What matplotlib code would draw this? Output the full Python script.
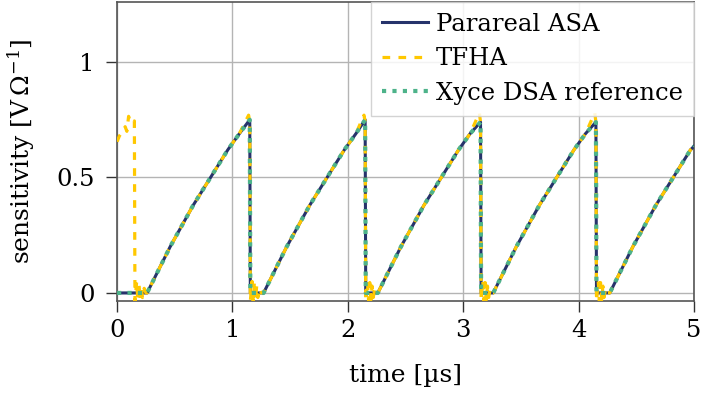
import matplotlib
matplotlib.use("Agg")
import matplotlib.pyplot as plt

# ---------------------------------------------------------------------------
# Data (time in us, sensitivity in V/Ohm)
# ---------------------------------------------------------------------------

parareal_t = [0.00, 0.26,
              0.36, 0.46, 0.56, 0.66, 0.76, 0.86, 0.96, 1.06, 1.15, 1.155,
              1.27, 1.37, 1.47, 1.57, 1.67, 1.77, 1.87, 1.97, 2.07, 2.15, 2.155,
              2.26, 2.36, 2.46, 2.56, 2.66, 2.76, 2.86, 2.96, 3.06, 3.15, 3.155,
              3.26, 3.36, 3.46, 3.56, 3.66, 3.76, 3.86, 3.96, 4.06, 4.15, 4.155,
              4.27, 4.37, 4.47, 4.57, 4.67, 4.77, 4.87, 4.97, 5.00]
parareal_v = [0.00, 0.00,
              0.10, 0.20, 0.29, 0.38, 0.46, 0.54, 0.62, 0.69, 0.75, 0.00,
              0.00, 0.10, 0.20, 0.29, 0.38, 0.46, 0.54, 0.62, 0.69, 0.75, 0.00,
              0.00, 0.10, 0.20, 0.29, 0.38, 0.46, 0.54, 0.62, 0.69, 0.74, 0.00,
              0.00, 0.10, 0.20, 0.29, 0.38, 0.46, 0.54, 0.62, 0.69, 0.74, 0.00,
              0.00, 0.10, 0.20, 0.29, 0.38, 0.46, 0.54, 0.62, 0.635]

xyce_t = [0.00, 0.26,
          0.36, 0.46, 0.56, 0.66, 0.76, 0.86, 0.96, 1.06, 1.15, 1.155,
          1.27, 1.37, 1.47, 1.57, 1.67, 1.77, 1.87, 1.97, 2.07, 2.15, 2.155,
          2.26, 2.36, 2.46, 2.56, 2.66, 2.76, 2.86, 2.96, 3.06, 3.15, 3.155,
          3.26, 3.36, 3.46, 3.56, 3.66, 3.76, 3.86, 3.96, 4.06, 4.15, 4.155,
          4.27, 4.37, 4.47, 4.57, 4.67, 4.77, 4.87, 4.97, 5.00]
xyce_v = [0.00, 0.00,
          0.10, 0.20, 0.29, 0.38, 0.46, 0.54, 0.62, 0.69, 0.75, 0.00,
          0.00, 0.10, 0.20, 0.29, 0.38, 0.46, 0.54, 0.62, 0.69, 0.75, 0.00,
          0.00, 0.10, 0.20, 0.29, 0.38, 0.46, 0.54, 0.62, 0.69, 0.74, 0.00,
          0.00, 0.10, 0.20, 0.29, 0.38, 0.46, 0.54, 0.62, 0.69, 0.74, 0.00,
          0.00, 0.10, 0.20, 0.29, 0.38, 0.46, 0.54, 0.62, 0.635]

# TFHA: wrong start value and ringing around each jump
tfha_t = [0.00, 0.02, 0.05, 0.07, 0.085, 0.10, 0.115, 0.13, 0.15, 0.155,
          0.17, 0.18, 0.19, 0.20, 0.21, 0.22, 0.235, 0.25, 0.26,
          0.36, 0.46, 0.56, 0.66, 0.76, 0.86, 0.96, 1.06, 1.14, 1.15, 1.155,
          1.17, 1.18, 1.19, 1.20, 1.21, 1.22, 1.235, 1.25, 1.27,
          1.37, 1.47, 1.57, 1.67, 1.77, 1.87, 1.97, 2.07, 2.14, 2.15, 2.155,
          2.17, 2.18, 2.19, 2.20, 2.21, 2.22, 2.235, 2.25, 2.26,
          2.36, 2.46, 2.56, 2.66, 2.76, 2.86, 2.96, 3.06, 3.14, 3.15, 3.155,
          3.17, 3.18, 3.19, 3.20, 3.21, 3.22, 3.235, 3.25, 3.26,
          3.36, 3.46, 3.56, 3.66, 3.76, 3.86, 3.96, 4.06, 4.14, 4.15, 4.155,
          4.17, 4.18, 4.19, 4.20, 4.21, 4.22, 4.235, 4.25, 4.27,
          4.37, 4.47, 4.57, 4.67, 4.77, 4.87, 4.97, 5.00]
tfha_v = [0.655, 0.68, 0.70, 0.72, 0.70, 0.765, 0.74, 0.735, 0.745, -0.035,
          0.05, -0.035, 0.04, -0.03, 0.03, -0.02, 0.02, 0.00, 0.00,
          0.10, 0.20, 0.29, 0.38, 0.46, 0.54, 0.62, 0.69, 0.77, 0.74, -0.035,
          0.05, -0.035, 0.045, -0.03, 0.03, -0.02, 0.02, 0.00, 0.00,
          0.10, 0.20, 0.29, 0.38, 0.46, 0.54, 0.62, 0.69, 0.77, 0.74, -0.035,
          0.05, -0.035, 0.045, -0.03, 0.03, -0.02, 0.02, 0.00, 0.00,
          0.10, 0.20, 0.29, 0.38, 0.46, 0.54, 0.62, 0.69, 0.78, 0.74, -0.035,
          0.05, -0.035, 0.045, -0.03, 0.03, -0.02, 0.02, 0.00, 0.00,
          0.10, 0.20, 0.29, 0.38, 0.46, 0.54, 0.62, 0.69, 0.78, 0.74, -0.035,
          0.05, -0.035, 0.045, -0.03, 0.03, -0.02, 0.02, 0.00, 0.00,
          0.10, 0.20, 0.29, 0.38, 0.46, 0.54, 0.62, 0.635]

x_ticks = [0, 1, 2, 3, 4, 5]
y_ticks = [0, 0.5, 1]
y_ticklabels = ["0", "0.5", "1"]

# ---------------------------------------------------------------------------
# Plot
# ---------------------------------------------------------------------------

plt.rcParams["font.family"] = ["DejaVu Serif"]
plt.rcParams["mathtext.fontset"] = "dejavuserif"
plt.rcParams["font.size"] = 17.5

fig = plt.figure(figsize=(7.01, 3.94), dpi=100)
ax = fig.add_axes([0.167, 0.236, 0.823, 0.760])

ax.plot(parareal_t, parareal_v, color="#26336b", linewidth=2.2,
        label="Parareal ASA", zorder=3)
ax.plot(tfha_t, tfha_v, color="#ffc800", linewidth=2.3,
        linestyle=(0, (2.4, 2.6)), label="TFHA", zorder=4)
ax.plot(xyce_t, xyce_v, color="#4db38a", linewidth=3.0,
        linestyle=(0, (1, 1.5)), label="Xyce DSA reference", zorder=5)

ax.set_xlim(0, 5)
ax.set_ylim(-0.035, 1.262)
ax.set_xticks(x_ticks)
ax.set_yticks(y_ticks)
ax.set_yticklabels(y_ticklabels)
ax.tick_params(direction="out", length=8, width=1, color="#333333",
               labelsize=17.5)
ax.tick_params(axis="x", pad=5)
ax.tick_params(axis="y", pad=8)
ax.grid(True, color="#b4b4b4", linewidth=1)
ax.set_axisbelow(True)
for sp in ax.spines.values():
    sp.set_color("#555555")
    sp.set_linewidth(1.2)

ax.set_xlabel("time [µs]", fontsize=18, labelpad=16)
ax.set_ylabel(r"sensitivity [V$\,\Omega^{-1}$]", fontsize=18, labelpad=14)

leg = ax.legend(loc="upper right", borderaxespad=0.0, fancybox=False,
                framealpha=0.85, edgecolor="#cccccc", handlelength=1.9,
                handletextpad=0.33, labelspacing=0.48, borderpad=0.45,
                fontsize=17.5)
leg.get_frame().set_linewidth(1)

fig.savefig("out.png", dpi=100)
plt.close(fig)
